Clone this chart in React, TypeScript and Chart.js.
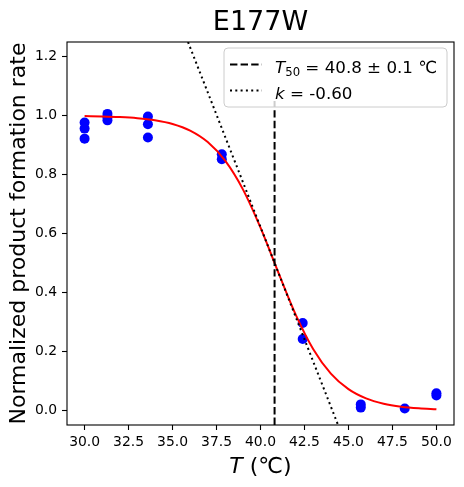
import React, { useEffect, useRef } from "react";
import { Chart, registerables } from "chart.js";

Chart.register(...registerables);

const chartTitle = "E177W";
const yLabel = "Normalized product formation rate";
const legendT50 = " = 40.8 ± 0.1 ℃";
const legendK = " = -0.60";

// Measured points (T, rate)
const pointT = [30, 30, 30, 31.3, 31.3, 31.3, 33.6, 33.6, 33.6, 37.8, 37.8, 42.4, 42.4, 45.7, 45.7, 48.2, 50, 50];
const pointRate = [0.977, 0.956, 0.922, 1.006, 0.995, 0.984, 0.997, 0.971, 0.926, 0.869, 0.852, 0.296, 0.242, 0.02, 0.009, 0.006, 0.058, 0.05];

// Fitted curve
const curveT = [30, 31, 32, 33, 34, 35, 36, 37, 38, 39, 40, 41, 42, 43, 44, 45, 46, 47, 48, 49, 50];
const curveRate = [0.9986, 0.9975, 0.9954, 0.9915, 0.9844, 0.9717, 0.9491, 0.9102, 0.8464, 0.7498, 0.6196, 0.4696, 0.3248, 0.2073, 0.1244, 0.0717, 0.0403, 0.0223, 0.0122, 0.0067, 0.0037];

// T50 vertical line
const t50T = [40.8, 40.8];
const t50Rate = [-0.05, 1.05];

// Tangent line (slope k)
const tangentT = [35, 45];
const tangentRate = [1.384, -0.14];

const xTicks = [30, 32.5, 35, 37.5, 40, 42.5, 45, 47.5, 50];
const yTicks = [0, 0.2, 0.4, 0.6, 0.8, 1.0, 1.2];

const FONT = '"DejaVu Sans"';

const toXY = (xs: number[], ys: number[]) => xs.map((x, i) => ({ x, y: ys[i] }));

const annotPlugin = {
  id: "annot",
  afterDraw(chart: any) {
    const ctx = chart.ctx as CanvasRenderingContext2D;
    const a = chart.chartArea;
    ctx.save();
    // spines
    ctx.strokeStyle = "#000";
    ctx.lineWidth = 1.1;
    ctx.strokeRect(a.left, a.top, a.right - a.left, a.bottom - a.top);

    const cx = (a.left + a.right) / 2;
    const cy = (a.top + a.bottom) / 2;

    // title
    ctx.fillStyle = "#000";
    ctx.font = `27px ${FONT}`;
    ctx.textAlign = "center";
    ctx.textBaseline = "alphabetic";
    ctx.fillText(chartTitle, cx, 30);

    // x label: italic T + " (℃)"
    ctx.textAlign = "left";
    ctx.font = `italic 22px ${FONT}`;
    const wT = ctx.measureText("T").width;
    ctx.font = `22px ${FONT}`;
    const rest = " (℃)";
    const wR = ctx.measureText(rest).width;
    const x0 = cx - (wT + wR) / 2;
    ctx.font = `italic 22px ${FONT}`;
    ctx.fillText("T", x0, 473);
    ctx.font = `22px ${FONT}`;
    ctx.fillText(rest, x0 + wT, 473);

    // y label
    ctx.save();
    ctx.translate(25, cy);
    ctx.rotate(-Math.PI / 2);
    ctx.textAlign = "center";
    ctx.font = `22px ${FONT}`;
    ctx.fillText(yLabel, 0, 0);
    ctx.restore();

    // legend box
    const bx = 224, by = 48, bw = 223, bh = 59, r = 4;
    ctx.beginPath();
    ctx.moveTo(bx + r, by);
    ctx.lineTo(bx + bw - r, by);
    ctx.quadraticCurveTo(bx + bw, by, bx + bw, by + r);
    ctx.lineTo(bx + bw, by + bh - r);
    ctx.quadraticCurveTo(bx + bw, by + bh, bx + bw - r, by + bh);
    ctx.lineTo(bx + r, by + bh);
    ctx.quadraticCurveTo(bx, by + bh, bx, by + bh - r);
    ctx.lineTo(bx, by + r);
    ctx.quadraticCurveTo(bx, by, bx + r, by);
    ctx.closePath();
    ctx.fillStyle = "rgba(255,255,255,0.8)";
    ctx.fill();
    ctx.strokeStyle = "#cccccc";
    ctx.lineWidth = 1;
    ctx.stroke();

    // handles
    ctx.strokeStyle = "#000";
    ctx.lineWidth = 2;
    ctx.lineCap = "butt";
    ctx.setLineDash([7.4, 3.2]);
    ctx.beginPath();
    ctx.moveTo(230, 64.5);
    ctx.lineTo(262, 64.5);
    ctx.stroke();
    ctx.setLineDash([2, 3.3]);
    ctx.beginPath();
    ctx.moveTo(230, 90.5);
    ctx.lineTo(262, 90.5);
    ctx.stroke();
    ctx.setLineDash([]);

    // legend text
    ctx.fillStyle = "#000";
    ctx.textAlign = "left";
    const fs = 16.7;
    let tx = 275;
    ctx.font = `italic ${fs}px ${FONT}`;
    ctx.fillText("T", tx, 72.5);
    tx += ctx.measureText("T").width;
    ctx.font = `${fs * 0.7}px ${FONT}`;
    ctx.fillText("50", tx, 72.5 + 0.2 * fs);
    tx += ctx.measureText("50").width;
    ctx.font = `${fs}px ${FONT}`;
    ctx.fillText(legendT50, tx, 72.5);

    tx = 275;
    ctx.font = `italic ${fs}px ${FONT}`;
    ctx.fillText("k", tx, 98.5);
    tx += ctx.measureText("k").width;
    ctx.font = `${fs}px ${FONT}`;
    ctx.fillText(legendK, tx, 98.5);

    ctx.restore();
  },
};

export default function App() {
  const ref = useRef<HTMLCanvasElement>(null);
  useEffect(() => {
    if (!ref.current) return;
    const tickFont = { family: "DejaVu Sans", size: 13.9 };
    const chart = new Chart(ref.current, {
      type: "scatter",
      data: {
        datasets: [
          {
            data: toXY(t50T, t50Rate),
            showLine: true,
            borderColor: "#000",
            borderWidth: 2,
            borderDash: [7.4, 3.2],
            pointRadius: 0,
            order: 0,
          } as any,
          {
            data: toXY(tangentT, tangentRate),
            showLine: true,
            borderColor: "#000",
            borderWidth: 2,
            borderDash: [2, 3.3],
            pointRadius: 0,
            order: 0,
          } as any,
          {
            data: toXY(curveT, curveRate),
            showLine: true,
            borderColor: "#ff0000",
            borderWidth: 2,
            cubicInterpolationMode: "monotone",
            pointRadius: 0,
            order: 1,
          } as any,
          {
            data: toXY(pointT, pointRate),
            showLine: false,
            backgroundColor: "#0000ff",
            borderColor: "#0000ff",
            borderWidth: 0,
            pointRadius: 5,
            order: 2,
          } as any,
        ],
      },
      options: {
        animation: false,
        responsive: false,
        devicePixelRatio: 1,
        layout: { padding: { top: 42, right: 10, left: 0, bottom: 0 } },
        plugins: { legend: { display: false }, tooltip: { enabled: false }, title: { display: false } },
        scales: {
          x: {
            type: "linear",
            min: 29,
            max: 51,
            afterFit: (s: any) => { s.height = 62; },
            afterBuildTicks: (s: any) => { s.ticks = xTicks.map((v) => ({ value: v })); },
            ticks: { font: tickFont, color: "#000", padding: 4, maxRotation: 0, callback: (v: any) => Number(v).toFixed(1) },
            grid: { display: true, drawOnChartArea: false, drawTicks: true, tickLength: 5, tickWidth: 1.1, tickColor: "#000" },
            border: { display: false },
          },
          y: {
            type: "linear",
            min: -0.05,
            max: 1.25,
            afterFit: (s: any) => { s.width = 67; },
            afterBuildTicks: (s: any) => { s.ticks = yTicks.map((v) => ({ value: v })); },
            ticks: { font: tickFont, color: "#000", padding: 5, callback: (v: any) => Number(v).toFixed(1) },
            grid: { display: true, drawOnChartArea: false, drawTicks: true, tickLength: 5, tickWidth: 1.1, tickColor: "#000" },
            border: { display: false },
          },
        },
      },
      plugins: [annotPlugin],
    });
    return () => chart.destroy();
  }, []);
  return (
    <div style={{ position: "absolute", left: 0, top: 0, width: 464, height: 487, background: "#fff" }}>
      <canvas ref={ref} width={464} height={487} style={{ width: 464, height: 487, display: "block" }} />
    </div>
  );
}
